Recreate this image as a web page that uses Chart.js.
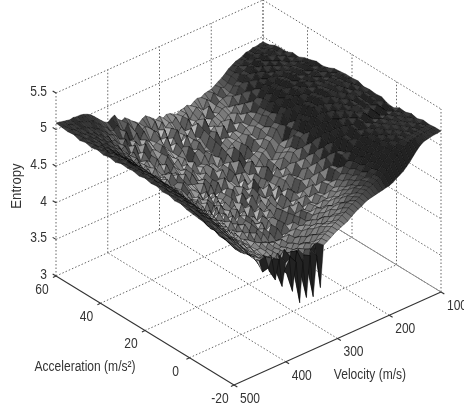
<!DOCTYPE html>
<html><head><meta charset="utf-8">
<style>html,body{margin:0;padding:0;background:#fff}canvas{display:block;filter:blur(.5px)}</style>
<script src="https://cdn.jsdelivr.net/npm/chart.js@4"></script></head>
<body><canvas id="c" width="464" height="408"></canvas>
<script>
const velocityTicks=[500,400,300,200,100];
const accelerationTicks=[60,40,20,0,-20];
const entropyTicks=[3,3.5,4,4.5,5,5.5];
const velocities=[500,493,487,480,473,467,460,453,447,440,433,427,420,413,407,400,393,387,380,373,367,360,353,347,340,333,327,320,313,307,300,293,287,280,273,267,260,253,247,240,233,227,220,213,207,200,193,187,180,173,167,160,153,147,140,133,127,120,113,107,100];
const accelerations=[60,57.3,54.7,52,49.3,46.7,44,41.3,38.7,36,33.3,30.7,28,25.3,22.7,20,17.3,14.7,12,9.3,6.7,4,1.3,-1.3,-4,-6.7,-9.3,-12,-14.7,-17.3,-20];
// entropy in hundredths, one row per acceleration, one column per velocity
const entropyHundredths=[
[509,508,507,506,505,506,505,505,504,502,499,495,490,485,481,478,482,484,476,472,474,470,465,462,458,462,464,460,456,452,455,450,453,452,449,447,450,451,453,450,454,456,455,458,459,460,463,466,469,473,477,480,483,484,486,489,489,491,491,492,493],
[508,506,507,505,504,505,503,501,499,498,492,489,483,480,474,472,477,469,464,473,467,458,466,455,458,455,450,459,445,454,444,449,446,452,438,449,451,440,447,453,449,445,457,452,462,456,465,463,467,474,477,483,482,487,486,490,490,493,493,495,494],
[507,507,505,505,502,503,499,498,493,492,486,484,477,475,472,465,461,471,457,456,463,451,461,447,444,455,451,439,450,436,448,443,438,444,436,450,438,443,443,449,440,455,444,451,455,457,458,461,468,472,480,482,486,487,491,490,494,493,496,495,498],
[508,505,506,502,502,498,498,492,491,485,484,476,475,468,461,470,458,454,460,452,447,456,451,443,446,449,438,447,433,442,451,432,440,436,444,431,447,434,449,436,444,446,448,452,453,450,463,462,473,475,483,483,490,488,494,492,497,495,499,497,499],
[505,506,503,504,499,499,493,491,486,484,477,475,467,470,457,453,464,451,445,460,441,448,445,434,447,439,436,431,442,428,433,446,429,436,433,434,443,430,437,442,439,444,443,449,449,458,456,469,470,481,481,489,488,494,492,497,495,500,497,501,499],
[507,504,504,501,499,494,493,487,484,479,477,469,467,461,464,450,447,458,440,449,443,439,445,429,440,434,430,431,437,421,438,431,426,438,424,427,440,424,441,428,445,433,450,441,454,450,463,462,475,476,486,486,493,490,497,495,500,497,502,499,503],
[505,506,502,502,496,494,488,486,481,477,471,470,459,463,455,448,453,450,436,449,439,435,446,427,432,436,424,433,426,420,434,437,422,430,428,424,437,426,431,436,434,440,439,448,446,457,456,469,472,481,485,491,492,496,496,499,498,501,500,503,502],
[507,504,504,499,498,491,490,482,480,475,471,464,464,452,456,451,442,444,450,431,445,429,438,433,428,426,432,420,431,423,424,434,419,431,426,420,434,425,428,433,435,437,440,446,447,454,460,466,475,480,488,490,495,495,499,499,502,501,504,503,506],
[505,507,503,502,497,494,487,485,477,475,468,467,456,458,446,455,439,442,440,441,434,436,431,427,434,418,429,422,419,427,428,423,425,417,429,419,430,421,435,423,436,429,443,441,451,453,462,467,476,484,489,492,497,498,502,501,504,503,506,505,508],
[507,505,506,501,498,492,488,481,479,471,468,462,459,449,450,444,446,433,447,428,441,423,437,420,433,422,420,419,426,412,428,421,423,427,412,426,424,414,433,420,437,428,442,440,452,453,465,468,480,484,493,493,500,499,505,502,507,504,509,506,511],
[505,507,504,503,497,493,487,483,475,474,464,463,454,453,443,450,437,437,439,429,436,429,428,426,425,416,427,411,422,417,418,429,411,426,417,414,431,417,424,428,431,433,437,446,449,458,462,472,479,489,492,498,499,504,504,507,506,509,508,511,510],
[508,505,506,501,498,491,489,480,477,469,470,456,458,445,447,441,440,428,443,426,430,427,425,417,430,411,424,407,423,409,425,418,416,424,408,421,420,414,431,421,429,436,438,447,450,460,464,477,481,492,494,501,502,507,506,510,508,512,510,514,512],
[507,505,506,503,499,491,488,480,477,468,468,456,458,444,449,438,442,429,436,426,421,428,417,426,413,420,411,417,409,418,407,416,414,408,419,410,411,421,416,426,420,432,429,437,446,448,467,470,488,489,500,500,507,505,510,509,513,510,515,512,516],
[508,506,506,501,499,491,488,480,474,472,462,462,451,447,450,436,438,433,424,432,426,416,428,412,423,409,414,418,406,421,410,405,418,412,404,423,410,420,413,431,419,430,435,442,446,456,468,477,484,495,497,504,505,510,510,512,513,515,515,517,517],
[506,507,504,503,498,492,485,481,476,467,465,459,449,449,441,441,431,437,430,419,431,421,418,423,412,417,404,418,410,403,419,408,412,420,403,417,412,422,417,424,433,427,442,448,453,466,470,483,487,498,500,506,507,512,512,515,515,517,516,519,518],
[508,505,505,503,497,492,486,481,473,470,461,461,449,448,437,444,431,425,436,417,429,412,424,416,410,413,416,400,414,406,408,419,401,416,410,407,423,412,418,426,425,436,439,452,454,468,471,486,489,501,501,509,509,514,514,517,516,519,517,520,518],
[506,507,503,502,496,493,484,482,471,472,460,460,446,451,436,443,427,433,421,433,414,421,411,420,402,417,406,411,399,414,403,408,415,400,412,416,406,424,414,427,434,430,446,446,462,463,479,483,496,497,508,506,513,512,515,514,518,514,519,516,519],
[507,504,504,499,497,489,488,476,476,464,467,454,453,442,445,433,435,423,433,415,427,408,420,405,416,399,412,403,406,398,413,406,410,414,400,409,420,411,423,419,433,433,441,454,456,471,474,490,492,504,503,511,510,514,512,516,515,517,515,518,516],
[504,505,500,499,494,490,483,479,470,468,459,457,446,446,437,438,426,429,425,420,418,415,412,410,414,398,411,403,402,410,404,414,400,412,408,407,420,412,424,419,435,434,448,449,464,467,482,485,498,500,509,507,513,511,515,512,516,513,517,515,517],
[505,501,501,496,494,486,484,474,473,461,463,451,449,440,441,430,432,420,431,412,423,407,418,402,414,405,403,410,397,409,411,406,401,414,402,416,414,420,420,428,430,441,443,458,460,475,477,492,493,505,503,512,510,513,513,512,515,512,516,514,516],
[502,501,497,496,490,488,480,476,467,465,456,454,443,443,434,435,424,426,421,417,415,412,411,401,412,397,409,396,410,398,412,403,402,415,403,410,424,414,429,424,439,436,452,452,468,470,484,487,500,500,510,507,513,510,514,511,515,512,516,513,517],
[503,498,497,492,492,482,482,470,470,459,459,447,447,437,437,428,428,419,427,409,422,404,416,401,411,396,408,394,410,398,413,408,404,417,405,420,418,425,424,434,433,446,446,462,462,478,478,495,495,506,505,512,509,515,510,516,511,517,512,517,513],
[500,498,493,492,486,484,476,472,463,461,452,450,439,441,430,432,421,423,420,415,413,410,408,407,404,403,402,402,403,406,407,417,406,419,408,422,421,427,427,436,436,448,449,463,464,479,480,495,494,506,503,512,508,515,509,516,510,517,511,516,512],
[499,496,491,490,485,481,475,469,465,455,453,444,441,434,432,426,423,418,422,410,417,405,413,403,409,400,409,401,411,405,415,417,415,419,418,423,431,428,437,437,446,448,457,462,471,476,486,491,499,502,508,508,512,511,514,512,515,513,516,514,517],
[498,494,488,487,482,478,473,466,461,454,448,444,436,434,428,426,419,419,419,411,414,407,411,406,408,404,409,406,412,411,417,423,418,426,422,431,435,437,441,445,449,455,460,468,472,480,485,493,497,505,507,511,511,514,513,515,514,516,515,517,516],
[497,490,488,482,481,474,471,462,459,450,447,439,435,430,427,422,419,416,419,408,415,405,413,405,412,405,414,409,419,415,425,427,426,431,432,437,444,442,450,450,457,459,467,470,477,481,489,493,500,504,509,509,513,512,515,514,516,515,517,516,519],
[494,490,484,482,477,473,467,461,455,450,442,439,431,429,424,422,415,419,416,411,415,409,414,412,414,413,417,417,423,424,430,435,431,440,437,446,448,451,455,459,462,467,470,476,478,485,488,496,499,506,508,512,512,515,514,517,515,518,516,519,517],
[495,486,483,478,476,469,466,457,453,446,441,435,431,425,424,418,416,419,419,411,420,410,420,415,421,417,424,422,431,429,438,439,440,445,446,450,457,456,463,463,470,470,476,477,483,485,491,495,502,505,510,511,515,514,517,515,518,516,519,517,520],
[492,486,480,476,473,467,464,456,450,445,438,429,442,425,438,420,436,416,437,414,430,410,428,412,425,418,428,430,436,437,443,445,446,452,452,458,463,463,467,470,473,476,479,482,484,488,491,496,501,506,510,513,515,516,517,517,518,518,519,519,519],
[491,483,477,473,470,465,460,458,449,446,428,447,425,440,420,440,416,412,432,410,436,405,426,408,430,434,434,438,442,444,448,451,453,457,459,463,466,468,471,473,476,478,480,483,485,488,491,495,499,504,509,513,516,517,518,518,519,519,519,520,520],
[490,483,477,473,470,466,462,459,457,457,439,450,418,444,405,435,438,392,430,372,425,375,430,372,425,380,436,439,442,445,448,450,452,454,458,461,464,466,469,471,472,473,474,475,476,477,479,482,485,488,492,497,503,508,513,516,517,518,519,519,520]
];
const bad=entropyHundredths.map((r,i)=>r.length===velocities.length?null:i+':'+r.length).filter(Boolean);
if(bad.length||entropyHundredths.length!==accelerations.length) throw new Error('row lengths '+bad.join(' ')+' rows '+entropyHundredths.length);

// 3-D axes -> flat x/y scale values (oblique box projection)
const box={x0:234,y0:385,vx:207/400,vy:-93/400,ax:-178/80,ay:-109/80,ez:-73.2};
const project=(v,a,e)=>({x:box.x0+(500-v)*box.vx+(a+20)*box.ax,y:box.y0+(500-v)*box.vy+(a+20)*box.ay+(e-3)*box.ez});

const gridStyle={borderColor:'#666',borderWidth:1,borderDash:[1.5,2]};
const line=(pts,style)=>Object.assign({data:pts,showLine:true,fill:false,pointRadius:0,tension:0},style);
const datasets=[];

// surface, nearest cell first (first dataset is painted last)
const clamp=(x,a,b)=>Math.min(b,Math.max(a,x));
const ent=(i,j)=>entropyHundredths[i][j]/100;
for(let i=accelerations.length-2;i>=0;i--){
  for(let j=0;j<velocities.length-1;j++){
    const e1=ent(i,j),e2=ent(i,j+1),e3=ent(i+1,j+1),e4=ent(i+1,j);
    const mean=(e1+e2+e3+e4)/4, span=Math.max(e1,e2,e3,e4)-Math.min(e1,e2,e3,e4);
    let g=52+clamp((4.88-mean)/0.4,0,1)*100+(e1-e2)*520+(e4-e1)*180;
    if(span>0.25) g=22;
    g=Math.round(clamp(g,34,215));
    datasets.push(line([
      project(velocities[j],accelerations[i],e1),
      project(velocities[j+1],accelerations[i],e2),
      project(velocities[j+1],accelerations[i+1],e3),
      project(velocities[j],accelerations[i+1],e4),
      project(velocities[j],accelerations[i],e1)
    ],{fill:'shape',backgroundColor:`rgb(${g},${g},${g})`,borderColor:'rgba(0,0,0,.75)',borderWidth:.5}));
  }
}

// axis lines and tick marks
const axisStyle={borderColor:'#333',borderWidth:1.1};
datasets.push(line([project(500,60,3),project(500,-20,3)],axisStyle));
datasets.push(line([project(500,-20,3),project(100,-20,3)],axisStyle));
accelerationTicks.forEach(a=>datasets.push(line([project(500,a,3),project(506,a,3)],axisStyle)));
velocityTicks.forEach(v=>datasets.push(line([project(v,-20,3),project(v,-21.5,3)],axisStyle)));
entropyTicks.forEach(e=>datasets.push(line([project(500,60,e),project(500,61.5,e)],axisStyle)));

// box grid
datasets.push(line([project(100,60,3),project(100,-20,3)],{borderColor:'#888',borderWidth:1}));
velocityTicks.forEach(v=>{
  datasets.push(line([project(v,60,3),project(v,60,5.5)],gridStyle));
  if(v!==500&&v!==100) datasets.push(line([project(v,-20,3),project(v,60,3)],gridStyle));
});
accelerationTicks.forEach(a=>{
  datasets.push(line([project(100,a,3),project(100,a,5.5)],gridStyle));
  if(a!==60&&a!==-20) datasets.push(line([project(500,a,3),project(100,a,3)],gridStyle));
});
entropyTicks.forEach(e=>{
  datasets.push(line([project(500,60,e),project(100,60,e)],gridStyle));
  datasets.push(line([project(100,60,e),project(100,-20,e)],gridStyle));
});

const labels={
  id:'labels',
  afterDraw(chart){
    const {ctx,scales:{x,y}}=chart;
    const put=(t,px,py,rot,sx)=>{ctx.save();ctx.translate(px,py);if(rot)ctx.rotate(rot);ctx.scale(sx||.86,1);ctx.fillText(t,0,0);ctx.restore();};
    ctx.save();
    ctx.fillStyle='#333';ctx.font='14px "Liberation Sans"';ctx.textBaseline='middle';ctx.textAlign='center';
    const at=(p,dx,dy)=>[x.getPixelForValue(p.x)+dx,y.getPixelForValue(p.y)+dy];
    velocityTicks.forEach(v=>put(String(v),...at(project(v,-20,3),16,14)));
    accelerationTicks.forEach(a=>put(String(a),...at(project(500,a,3),-14,14)));
    ctx.textAlign='right';
    entropyTicks.forEach(e=>put(String(e),...at(project(500,60,e),-9,-1)));
    ctx.textAlign='center';
    put('Entropy',17,186,-Math.PI/2,.94);
    put('Acceleration (m/s²)',85,367);
    put('Velocity (m/s)',370,375);
    ctx.restore();
  }
};

new Chart(document.getElementById('c'),{
  type:'scatter',
  data:{datasets},
  options:{
    responsive:false,animation:false,events:[],
    layout:{padding:0},
    plugins:{legend:{display:false},tooltip:{enabled:false}},
    scales:{
      x:{type:'linear',min:0,max:464,display:false},
      y:{type:'linear',min:0,max:408,reverse:true,display:false}
    }
  },
  plugins:[labels]
});
</script></body></html>
